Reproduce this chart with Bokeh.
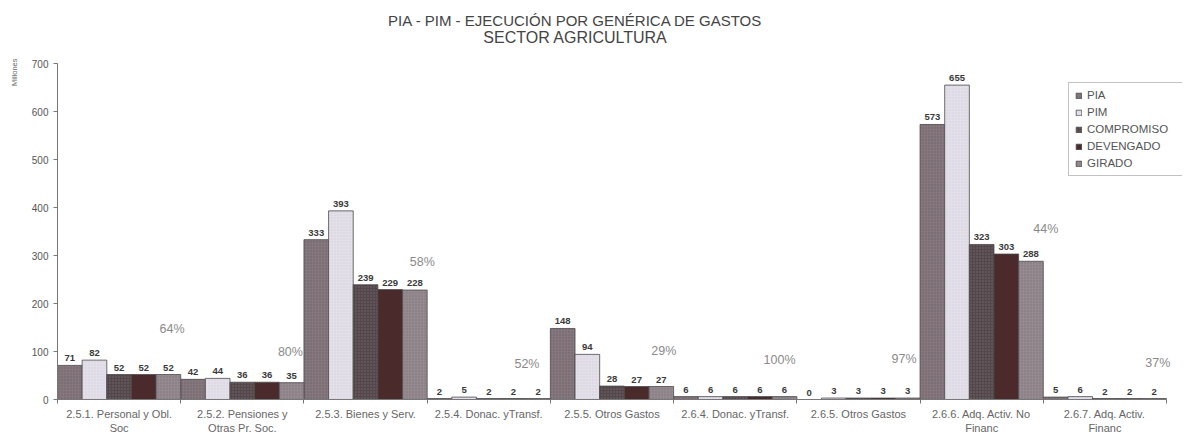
from bokeh.plotting import figure
from bokeh.models import (ColumnDataSource, FixedTicker, Title, Range1d, Legend, LegendItem,
                          LabelSet, Label)
from bokeh.core.properties import value
from bokeh.embed import file_html
from bokeh.resources import INLINE

categories = ["2.5.1. Personal y Obl.\nSoc", "2.5.2. Pensiones y\nOtras Pr. Soc.",
              "2.5.3. Bienes y Serv.", "2.5.4. Donac. yTransf.", "2.5.5. Otros Gastos",
              "2.6.4. Donac. yTransf.", "2.6.5. Otros Gastos", "2.6.6. Adq. Activ. No\nFinanc",
              "2.6.7. Adq. Activ.\nFinanc"]
series = ["PIA", "PIM", "COMPROMISO", "DEVENGADO", "GIRADO"]
pia = [71, 42, 333, 2, 148, 6, 0, 573, 5]
pim = [82, 44, 393, 5, 94, 6, 3, 655, 6]
compromiso = [52, 36, 239, 2, 28, 6, 3, 323, 2]
devengado = [52, 36, 229, 2, 27, 6, 3, 303, 2]
girado = [52, 35, 228, 2, 27, 6, 3, 288, 2]
pct_labels = ["64%", "80%", "58%", "52%", "29%", "100%", "97%", "44%", "37%"]
# annotation anchor positions for the percentage labels (data units)
pct_x = [0.93, 1.89, 2.96, 3.81, 4.92, 5.86, 6.87, 8.02, 8.93]
pct_y = [146, 98, 287, 73, 102, 83, 85, 356, 77]
y_ticks = [0, 100, 200, 300, 400, 500, 600, 700]
y_max = 700

values = [pia, pim, compromiso, devengado, girado]
fills = ["#85777d", "#e4e0ea", "#54474b", "#4a2a2a", "#958a90"]
hatch_cols = ["#5e5257", "#c9c3d0", "#8a7e82", "#3a1e1e", "#6e6268"]
hatches = ["dot", "dot", "dot", " ", "dot"]

n = len(categories)
ns = len(series)
FONT = "Liberation Sans"

# frame spans the full canvas top/right so title and legend sit inside it;
# the axes are limited to the data extent with bounds
W, H = 1182, 444
left, bottom = 57, 45
frame_h = H - bottom
px_per_unit = (frame_h - 63) / y_max
px_per_group = (1166 - left) / n
p = figure(width=W, height=H, output_backend="svg", toolbar_location=None,
           x_range=Range1d(0, (W - left) / px_per_group),
           y_range=Range1d(0, frame_h / px_per_unit),
           min_border_left=left, min_border_right=0, min_border_top=0,
           min_border_bottom=bottom)
p.outline_line_color = None
p.xgrid.grid_line_color = None
p.ygrid.grid_line_color = None
p.title.visible = False

renderers = []
for j, (name, vals) in enumerate(zip(series, values)):
    xs = [i + (j + 0.5) / ns for i in range(n)]
    src = ColumnDataSource(dict(x=xs, top=vals, lab=[str(v) for v in vals]))
    r = p.vbar(x="x", top="top", width=1.0 / ns, source=src, fill_color=fills[j],
               line_color="#4a4a4a", line_width=0.8,
               hatch_pattern=hatches[j], hatch_color=hatch_cols[j], hatch_scale=3,
               hatch_alpha=0.6, hatch_weight=1)
    renderers.append((name, r))
    p.add_layout(LabelSet(x="x", y="top", text="lab", source=src, text_align="center",
                          text_baseline="bottom", y_offset=4, text_font=value(FONT),
                          text_font_size="9.5px", text_font_style="bold",
                          text_color="#3a3a3a"))

psrc = ColumnDataSource(dict(x=pct_x, y=pct_y, t=pct_labels))
p.text(x="x", y="y", text="t", source=psrc, text_align="center", text_baseline="middle",
       text_font=value(FONT), text_font_size="12.5px", text_color="#8a8a8a")

# axes
p.yaxis.bounds = (0, y_max)
p.yaxis.ticker = FixedTicker(ticks=y_ticks)
p.yaxis.minor_tick_line_color = None
p.yaxis.major_tick_out = 4
p.yaxis.major_tick_in = 0
p.yaxis.axis_line_color = "#777777"
p.yaxis.major_tick_line_color = "#777777"
p.yaxis.major_label_text_font = FONT
p.yaxis.major_label_text_font_size = "10px"
p.yaxis.major_label_text_color = "#555555"
p.yaxis.major_label_standoff = 5

p.xaxis.bounds = (0, n)
p.xaxis.ticker = FixedTicker(ticks=[i + 0.5 for i in range(n)],
                             minor_ticks=list(range(n + 1)))
p.xaxis.major_label_overrides = {i + 0.5: c for i, c in enumerate(categories)}
p.xaxis.major_tick_out = 0
p.xaxis.major_tick_in = 0
p.xaxis.minor_tick_out = 4
p.xaxis.minor_tick_in = 0
p.xaxis.minor_tick_line_color = "#777777"
p.xaxis.axis_line_color = "#777777"
p.xaxis.major_label_text_font = FONT
p.xaxis.major_label_text_font_size = "11px"
p.xaxis.major_label_text_color = "#666666"
p.xaxis.major_label_standoff = 4

# y-axis unit label at the top of the left side
p.add_layout(Title(text="Millones", align="right", vertical_align="top", offset=58,
                   text_font=FONT, text_font_size="7.5px", text_font_style="normal",
                   text_color="#666666", standoff=15), "left")

# two-line title (screen units, relative to the frame's bottom-left corner)
p.add_layout(Label(text="PIA - PIM - EJECUCIÓN POR GENÉRICA DE GASTOS",
                   x=575 - left, y=frame_h - 19.5, x_units="screen", y_units="screen",
                   text_align="center", text_baseline="middle", text_font=FONT,
                   text_font_size="15px", text_color="#444444"))
p.add_layout(Label(text="SECTOR AGRICULTURA",
                   x=575 - left, y=frame_h - 36.5, x_units="screen", y_units="screen",
                   text_align="center", text_baseline="middle", text_font=FONT,
                   text_font_size="16px", text_color="#444444"))

legend = Legend(items=[LegendItem(label=nm, renderers=[r]) for nm, r in renderers],
                location=(1011, 223), label_text_font=FONT, label_text_font_size="11.5px",
                label_text_color="#555555", glyph_width=7, glyph_height=7,
                label_height=12, label_width=90, spacing=5, label_standoff=5, padding=6,
                margin=0, border_line_color="#888888", border_line_width=1,
                background_fill_color="white")
p.add_layout(legend)

open("out.html", "w").write(file_html(p, INLINE))
